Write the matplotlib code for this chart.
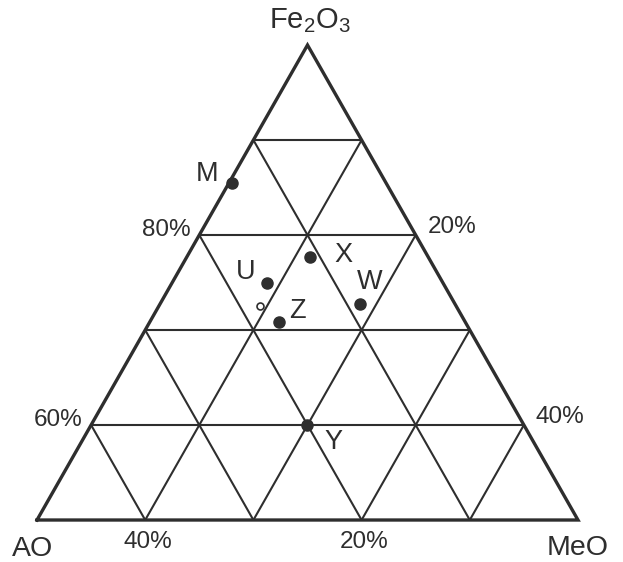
import numpy as np
import matplotlib.pyplot as plt

plt.rcParams['font.family'] = ['Liberation Sans', 'DejaVu Sans']
plt.rcParams['mathtext.default'] = 'regular'

# composition of samples (%): Fe2O3, MeO; AO = 100 - Fe2O3 - MeO
names = ['M', 'X', 'U', 'W', 'Z', 'Y']
fe2o3 = [85.5, 77.7, 74.9, 72.7, 70.8, 60.0]
meo = [0.3, 11.4, 8.8, 18.5, 12.0, 20.0]
# small open circle
open_fe2o3 = [72.5]
open_meo = [9.4]

fe_levels = [60, 70, 80, 90]
side_levels = [10, 20, 30, 40]
fe_ticks = [80, 60]
meo_ticks = [20, 40]
ao_ticks = [40, 20]

ink = '#2e2e2e'


def xy(fe, me):
    fe = np.asarray(fe, float)
    me = np.asarray(me, float)
    return me + fe / 2, fe


fig = plt.figure(figsize=(6.23, 5.62), dpi=100)
ax = fig.add_axes([0, 0, 1, 1])
ax.set_xlim(21.58, 79.16)
ax.set_ylim(45.58, 104.74)
ax.axis('off')

# grid lines
for f in fe_levels:
    x, y = xy([f, f], [0, 100 - f])
    ax.plot(x, y, color=ink, lw=1.5, solid_capstyle='round')
for m in side_levels:
    x, y = xy([50, 100 - m], [m, m])
    ax.plot(x, y, color=ink, lw=1.5, solid_capstyle='round')
for a in side_levels:
    x, y = xy([50, 100 - a], [50 - a, 0])
    ax.plot(x, y, color=ink, lw=1.5, solid_capstyle='round')

# outer triangle
x, y = xy([50, 50, 100, 50], [0, 50, 0, 0])
ax.plot(x, y, color=ink, lw=2.4, solid_joinstyle='miter')

# samples
x, y = xy(fe2o3, meo)
ax.plot(x, y, 'o', color=ink, ms=8, zorder=5)
x, y = xy(open_fe2o3, open_meo)
ax.plot(x, y, 'o', mfc='white', mec=ink, mew=1.2, ms=5, zorder=5)

offsets = {'M': (-25, 9), 'X': (33, 2), 'U': (-21, 11),
           'W': (10, 22), 'Z': (18, 11), 'Y': (26, -17)}
for n, f, m in zip(names, fe2o3, meo):
    ax.annotate(n, xy(f, m), xytext=offsets[n], textcoords='offset pixels',
                ha='center', va='center', fontsize=19.5, color=ink)

# scale labels
for f in fe_ticks:
    ax.annotate(f'{f}%', xy(f, 0), xytext=(-9, 5), textcoords='offset pixels',
                ha='right', va='center', fontsize=17.5, color=ink)
for m in meo_ticks:
    ax.annotate(f'{m}%', xy(100 - m, m), xytext=(12, 8), textcoords='offset pixels',
                ha='left', va='center', fontsize=17.5, color=ink)
for a in ao_ticks:
    ax.annotate(f'{a}%', xy(50, 50 - a), xytext=(3, -22), textcoords='offset pixels',
                ha='center', va='center', fontsize=17.5, color=ink)

# components
ax.annotate(r'Fe$_2$O$_3$', xy(100, 0), xytext=(2, 24), textcoords='offset pixels',
            ha='center', va='center', fontsize=21, color=ink)
ax.annotate('AO', xy(50, 0), xytext=(-4, -29), textcoords='offset pixels',
            ha='center', va='center', fontsize=20.5, color=ink)
ax.annotate('MeO', xy(50, 50), xytext=(0, -28), textcoords='offset pixels',
            ha='center', va='center', fontsize=20.5, color=ink)

fig.savefig('out.png', dpi=100)
